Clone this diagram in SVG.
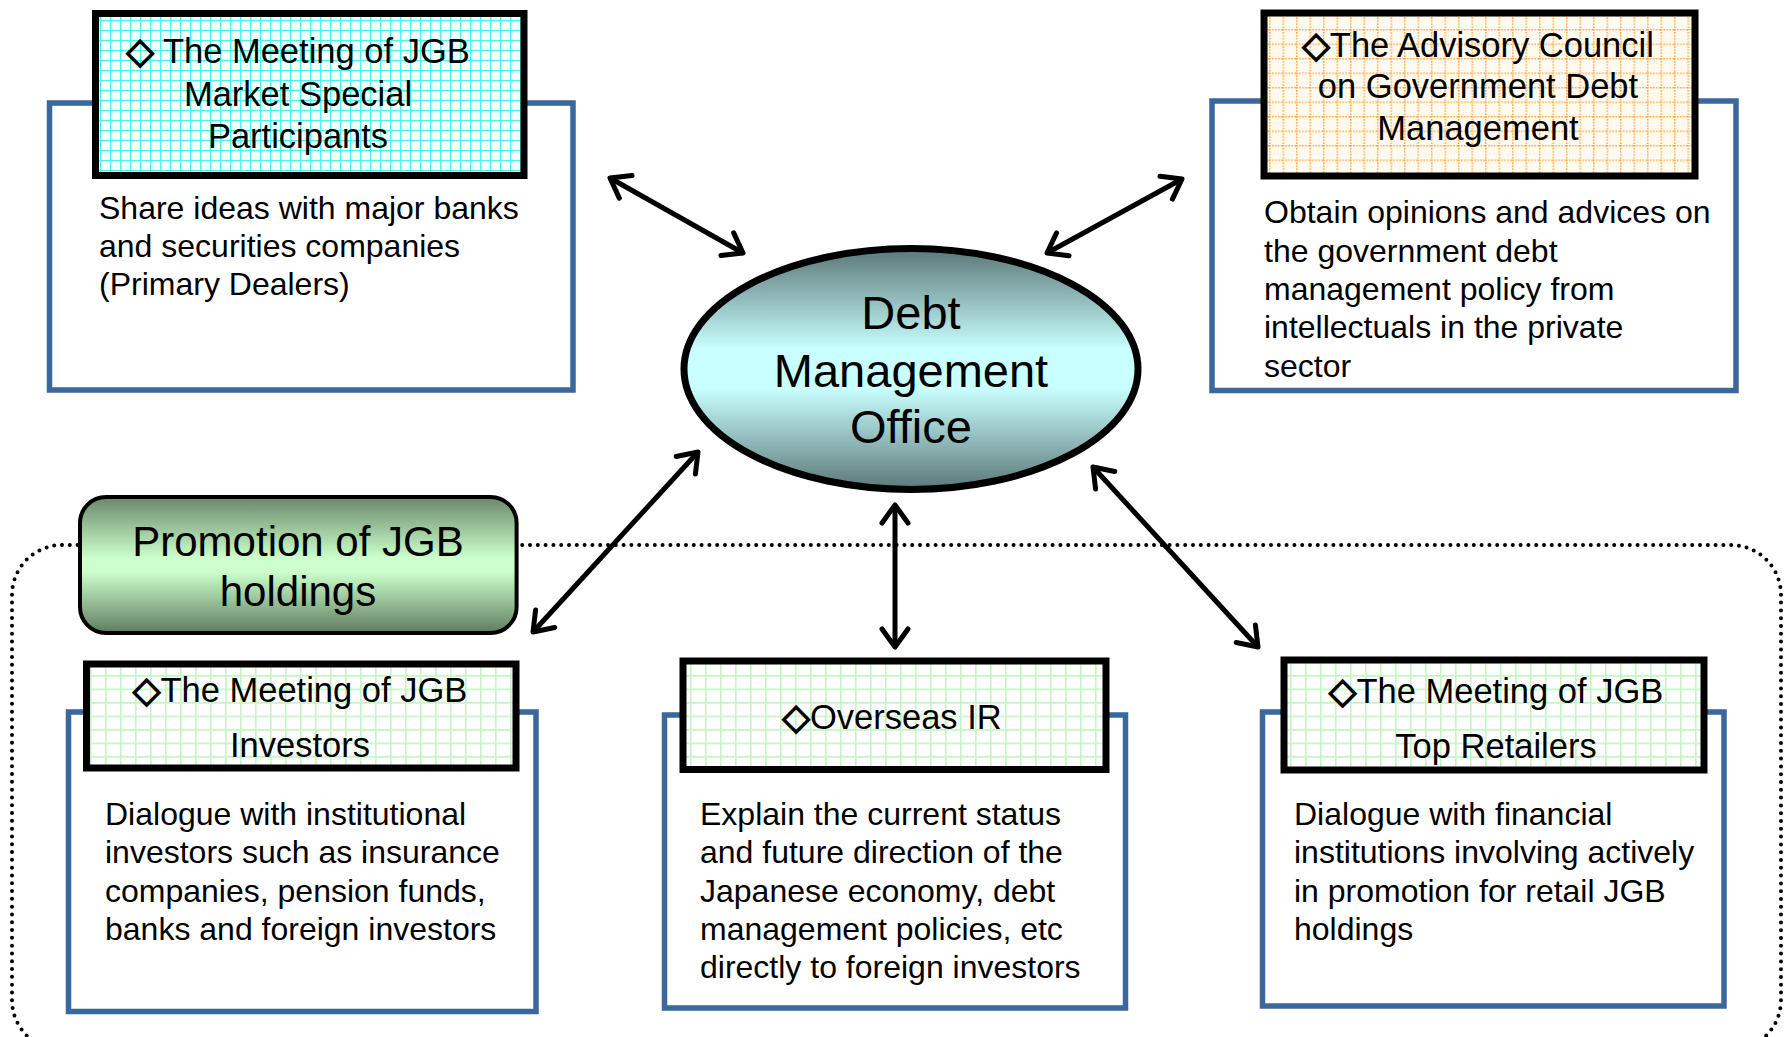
<svg xmlns="http://www.w3.org/2000/svg" width="1784" height="1037" viewBox="0 0 1784 1037">
  <defs>
    <!-- cyan square grid -->
    <pattern id="gridCyan" patternUnits="userSpaceOnUse" width="10" height="10">
      <rect width="10" height="10" fill="#f2ffff"/>
      <path d="M0 0.5H10M0.5 0V10" stroke="#4ff0f0" stroke-width="1.6" fill="none"/>
    </pattern>
    <!-- pale green square grid -->
    <pattern id="gridGreen" patternUnits="userSpaceOnUse" width="15" height="13.5">
      <rect width="15" height="13.5" fill="#ffffff"/>
      <path d="M0 0.75H15M0.75 0V13.5" stroke="#c6f5c6" stroke-width="1.8" fill="none"/>
    </pattern>
    <!-- orange dotted grid -->
    <pattern id="gridOrange" patternUnits="userSpaceOnUse" width="13.5" height="14.5">
      <rect width="13.5" height="14.5" fill="#fffaf0"/>
      <path d="M0 0.75H13.5" stroke="#ffa53a" stroke-width="1.5" stroke-dasharray="1.5 1.5" fill="none"/>
      <path d="M0.75 0V14.5" stroke="#ffa53a" stroke-width="1.5" stroke-dasharray="1.5 1.5" fill="none"/>
    </pattern>
    <linearGradient id="ovalFill" x1="0" y1="0" x2="0" y2="1">
      <stop offset="0" stop-color="#5b7878"/>
      <stop offset="0.42" stop-color="#c9ffff"/>
      <stop offset="0.58" stop-color="#c9ffff"/>
      <stop offset="1" stop-color="#5b7878"/>
    </linearGradient>
    <linearGradient id="greenFill" x1="0" y1="0" x2="0" y2="1">
      <stop offset="0" stop-color="#6a876a"/>
      <stop offset="0.45" stop-color="#ccffcc"/>
      <stop offset="0.55" stop-color="#ccffcc"/>
      <stop offset="1" stop-color="#5f7c5f"/>
    </linearGradient>
    <marker id="openHead" markerUnits="userSpaceOnUse" orient="auto-start-reverse" refX="0" refY="0" markerWidth="40" markerHeight="40" overflow="visible">
      <path d="M-18,-13 L0,0 L-18,13" fill="none" stroke="#000" stroke-width="5" stroke-linecap="round" stroke-linejoin="round"/>
    </marker>
  </defs>
  <style>
    text { font-family: "Liberation Sans", Arial, "DejaVu Sans", sans-serif; fill: #000; }
    .title { font-size: 34.5px; text-anchor: middle; }
    .body { font-size: 32px; }
    .oval { font-size: 47px; text-anchor: middle; }
    .promo { font-size: 42px; text-anchor: middle; }
    .dia { font-family: "DejaVu Sans", sans-serif; font-weight: bold; font-size: 36px; stroke: #000; stroke-width: 1.4; }
    .panel { fill: #fff; stroke: #3a679c; stroke-width: 5.5; }
    .head { stroke: #000; stroke-width: 7; }
    .link { stroke: #000; stroke-width: 5; fill: none; marker-start: url(#openHead); marker-end: url(#openHead); }
  </style>

  <rect width="1784" height="1037" fill="#fff"/>

  <!-- dotted boundary of the promotion group -->
  <g id="promotion-frame">
    <rect x="12" y="545" width="1769" height="505" rx="50" fill="none" stroke="#000" stroke-width="4" stroke-linecap="round" stroke-dasharray="0 7.8"/>
  </g>

  <!-- two-way links to the central office -->
  <g id="connectors">
    <line class="link" x1="610" y1="178" x2="743" y2="253"/>
    <line class="link" x1="1182" y1="179" x2="1047" y2="253"/>
    <line class="link" x1="698" y1="452" x2="533" y2="632"/>
    <line class="link" x1="895" y1="505" x2="895" y2="647"/>
    <line class="link" x1="1093" y1="467" x2="1258" y2="647"/>
  </g>

  <g id="debt-management-office">
    <ellipse cx="911" cy="369" rx="227" ry="120.5" fill="url(#ovalFill)" stroke="#000" stroke-width="7"/>
    <text class="oval" x="911" y="329">Debt</text>
    <text class="oval" x="911" y="387">Management</text>
    <text class="oval" x="911" y="443">Office</text>
  </g>

  <g id="market-special-participants">
    <rect class="panel" x="49.5" y="103" width="523.5" height="287"/>
    <rect class="head" x="95.5" y="13.5" width="428.5" height="162" fill="url(#gridCyan)"/>
    <text class="title" x="298" y="63"><tspan class="dia">◇</tspan> The Meeting of JGB</text>
    <text class="title" x="298" y="106">Market Special</text>
    <text class="title" x="298" y="148">Participants</text>
    <text class="body" x="99" y="219">Share ideas with major banks</text>
    <text class="body" x="99" y="257">and securities companies</text>
    <text class="body" x="99" y="295">(Primary Dealers)</text>
  </g>

  <g id="advisory-council">
    <rect class="panel" x="1212" y="101" width="524" height="289.5"/>
    <rect class="head" x="1264" y="13" width="431" height="163" fill="url(#gridOrange)"/>
    <text class="title" x="1478" y="57"><tspan class="dia">◇</tspan>The Advisory Council</text>
    <text class="title" x="1478" y="98">on Government Debt</text>
    <text class="title" x="1478" y="140">Management</text>
    <text class="body" x="1264" y="223">Obtain opinions and advices on</text>
    <text class="body" x="1264" y="262">the government debt</text>
    <text class="body" x="1264" y="300">management policy from</text>
    <text class="body" x="1264" y="338">intellectuals in the private</text>
    <text class="body" x="1264" y="377">sector</text>
  </g>

  <g id="promotion-of-jgb-holdings">
    <rect x="80" y="497" width="436.6" height="136" rx="26" fill="url(#greenFill)" stroke="#000" stroke-width="4"/>
    <text class="promo" x="298" y="556">Promotion of JGB</text>
    <text class="promo" x="298" y="606">holdings</text>
  </g>

  <g id="jgb-investors">
    <rect class="panel" x="68.5" y="712" width="467.5" height="299.5"/>
    <rect class="head" x="86.5" y="664" width="429.5" height="104" fill="url(#gridGreen)"/>
    <text class="title" x="300" y="702"><tspan class="dia">◇</tspan>The Meeting of JGB</text>
    <text class="title" x="300" y="757">Investors</text>
    <text class="body" x="105" y="825">Dialogue with institutional</text>
    <text class="body" x="105" y="863">investors such as insurance</text>
    <text class="body" x="105" y="902">companies, pension funds,</text>
    <text class="body" x="105" y="940">banks and foreign investors</text>
  </g>

  <g id="overseas-ir">
    <rect class="panel" x="664.5" y="715" width="461" height="293"/>
    <rect class="head" x="683" y="661" width="423" height="108.5" fill="url(#gridGreen)"/>
    <text class="title" x="892" y="729"><tspan class="dia">◇</tspan>Overseas IR</text>
    <text class="body" x="700" y="825">Explain the current status</text>
    <text class="body" x="700" y="863">and future direction of the</text>
    <text class="body" x="700" y="902">Japanese economy, debt</text>
    <text class="body" x="700" y="940">management policies, etc</text>
    <text class="body" x="700" y="978">directly to foreign investors</text>
  </g>

  <g id="jgb-top-retailers">
    <rect class="panel" x="1262.5" y="712" width="461.5" height="294"/>
    <rect class="head" x="1284" y="660" width="420" height="110" fill="url(#gridGreen)"/>
    <text class="title" x="1496" y="703"><tspan class="dia">◇</tspan>The Meeting of JGB</text>
    <text class="title" x="1496" y="758">Top Retailers</text>
    <text class="body" x="1294" y="825">Dialogue with financial</text>
    <text class="body" x="1294" y="863">institutions involving actively</text>
    <text class="body" x="1294" y="902">in promotion for retail JGB</text>
    <text class="body" x="1294" y="940">holdings</text>
  </g>
</svg>
